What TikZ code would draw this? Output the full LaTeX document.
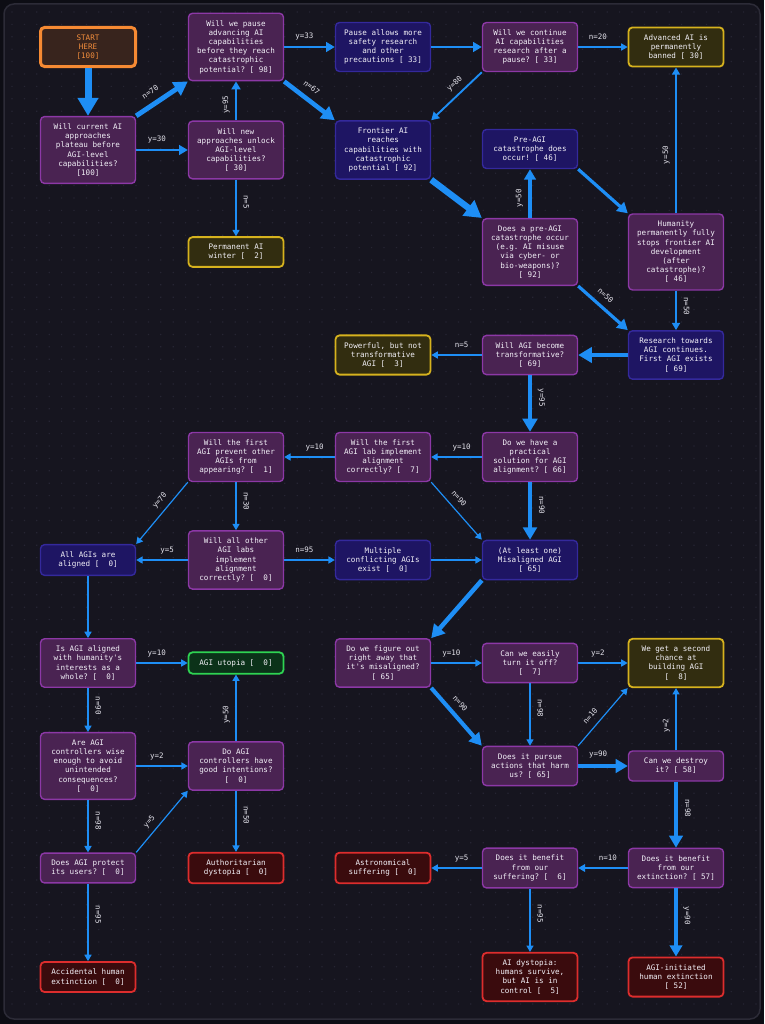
\documentclass[tikz,border=0pt]{standalone}
\usepackage{fontspec}
\setmonofont{DejaVu Sans Mono}
\usetikzlibrary{arrows.meta}
\definecolor{bgout}{HTML}{0D0D14}
\definecolor{panel}{HTML}{16151F}
\definecolor{panelline}{HTML}{2C2B37}
\definecolor{dotc}{HTML}{262533}
\definecolor{qfill}{HTML}{4A2352}
\definecolor{qline}{HTML}{8C38A6}
\definecolor{sfill}{HTML}{1E1563}
\definecolor{sline}{HTML}{34299C}
\definecolor{yfill}{HTML}{322D10}
\definecolor{yline}{HTML}{D6B21E}
\definecolor{rfill}{HTML}{3A0B0D}
\definecolor{rline}{HTML}{DD2D2D}
\definecolor{gfill}{HTML}{0B3219}
\definecolor{gline}{HTML}{2ED352}
\definecolor{bfill}{HTML}{38241D}
\definecolor{bline}{HTML}{F68A33}
\definecolor{btxt}{HTML}{F08C3C}
\definecolor{nodetxt}{HTML}{F2F0F7}
\definecolor{lbltxt}{HTML}{E2E1EA}
\definecolor{arrc}{HTML}{1E8EF5}

\begin{document}
\begin{tikzpicture}[x=1pt, y=-1pt,
  box/.style = {draw, rounded corners=4pt, line width=1.4pt, minimum width=95pt, inner xsep=3pt, inner ysep=7pt, align=center, text=nodetxt, font=\ttfamily\fontsize{7.6}{9.2}\selectfont},
  q/.style = {box, fill=qfill, draw=qline},
  st/.style = {box, fill=sfill, draw=sline},
  endy/.style = {box, fill=yfill, draw=yline, line width=1.8pt},
  endr/.style = {box, fill=rfill, draw=rline, line width=1.8pt},
  endg/.style = {box, fill=gfill, draw=gline, line width=1.8pt},
  begin/.style = {box, fill=bfill, draw=bline, line width=3pt, text=btxt},
  lbl/.style = {font=\ttfamily\fontsize{7.5}{8}\selectfont, text=lbltxt, inner sep=1pt, text height=5pt, text depth=1.5pt, sloped, above=4.5pt, pos=0.4},
  arr/.style = {draw=arrc, line width=#1pt, -{Triangle[length=4pt 2, width=4.5pt 2.2]}}]

  % Tausta
  \fill[bgout] (0,0) rectangle (764,1024);
  \filldraw[fill=panel, draw=panelline, line width=1.5pt, rounded corners=10pt] (4,4) rectangle (760,1019);
  \foreach \j in {0,...,80}
    \fill[dotc] \foreach \i in {0,...,60} {(11.4+12.4*\i, 11.4+12.4*\j) rectangle ++(1.2,1.2)};

  % Solmut
  \node[begin] (start) at (88,47) {START\\HERE\\{}[100]};
  \node[q] (plateau) at (88,150) {Will current AI\\approaches\\plateau before\\AGI-level\\capabilities?\\{}[100]};
  \node[q] (pause) at (236,47) {Will we pause\\advancing AI\\capabilities\\before they reach\\catastrophic\\potential? [~98]};
  \node[q] (newappr) at (236,150) {Will new\\approaches unlock\\AGI-level\\capabilities?\\{}[~30]};
  \node[endy] (winter) at (236,252) {Permanent AI\\winter [~~2]};
  \node[st] (safety) at (383,47) {Pause allows more\\safety research\\and other\\precautions [~33]};
  \node[q] (cont) at (530,47) {Will we continue\\AI capabilities\\research after a\\pause? [~33]};
  \node[endy] (banned) at (676,47) {Advanced AI is\\permanently\\banned [~30]};
  \node[st] (frontier) at (383,150) {Frontier AI\\reaches\\capabilities with\\catastrophic\\potential [~92]};
  \node[st] (catyes) at (530,149) {Pre-AGI\\catastrophe does\\occur! [~46]};
  \node[q] (catq) at (530,252) {Does a pre-AGI\\catastrophe occur\\(e.g. AI misuse\\via cyber- or\\bio-weapons)?\\{}[~92]};
  \node[q] (stops) at (676,252) {Humanity\\permanently fully\\stops frontier AI\\development\\(after\\catastrophe)?\\{}[~46]};
  \node[st] (research) at (676,355) {Research towards\\AGI continues.\\First AGI exists\\{}[~69]};
  \node[q] (transf) at (530,355) {Will AGI become\\transformative?\\{}[~69]};
  \node[endy] (powerful) at (383,355) {Powerful, but not\\transformative\\AGI [~~3]};
  \node[q] (solution) at (530,457) {Do we have a\\practical\\solution for AGI\\alignment? [~66]};
  \node[q] (firstlab) at (383,457) {Will the first\\AGI lab implement\\alignment\\correctly? [~~7]};
  \node[q] (prevent) at (236,457) {Will the first\\AGI prevent other\\AGIs from\\appearing? [~~1]};
  \node[q] (others) at (236,560) {Will all other\\AGI labs\\implement\\alignment\\correctly? [~~0]};
  \node[st] (allgood) at (88,560) {All AGIs are\\aligned [~~0]};
  \node[st] (multi) at (383,560) {Multiple\\conflicting AGIs\\exist [~~0]};
  \node[st] (misal) at (530,560) {(At least one)\\Misaligned AGI\\{}[~65]};
  \node[q] (humans) at (88,663) {Is AGI aligned\\with humanity's\\interests as a\\whole? [~~0]};
  \node[endg] (utopia) at (236,663) {AGI utopia [~~0]};
  \node[q] (wise) at (88,766) {Are AGI\\controllers wise\\enough to avoid\\unintended\\consequences?\\{}[~~0]};
  \node[q] (intent) at (236,766) {Do AGI\\controllers have\\good intentions?\\{}[~~0]};
  \node[q] (protect) at (88,868) {Does AGI protect\\its users? [~~0]};
  \node[endr] (author) at (236,868) {Authoritarian\\dystopia [~~0]};
  \node[endr] (accident) at (88,977) {Accidental human\\extinction [~~0]};
  \node[q] (noticed) at (383,663) {Do we figure out\\right away that\\it's misaligned?\\{}[~65]};
  \node[q] (turnoff) at (530,663) {Can we easily\\turn it off?\\{}[~~7]};
  \node[endy] (second) at (676,663) {We get a second\\chance at\\building AGI\\{}[~~8]};
  \node[q] (harm) at (530,766) {Does it pursue\\actions that harm\\us? [~65]};
  \node[q] (destroy) at (676,766) {Can we destroy\\it? [~58]};
  \node[q] (benext) at (676,868) {Does it benefit\\from our\\extinction? [~57]};
  \node[q] (bensuf) at (530,868) {Does it benefit\\from our\\suffering? [~~6]};
  \node[endr] (astro) at (383,868) {Astronomical\\suffering [~~0]};
  \node[endr] (aidyst) at (530,977) {AI dystopia:\\humans survive,\\but AI is in\\control [~~5]};
  \node[endr] (agiext) at (676,977) {AGI-initiated\\human extinction\\{}[~52]};

  % Nuolet
  \draw[arr=7] (start) -- (plateau);
  \draw[arr=4.9] (plateau.north east) -- node[lbl]{n=70} (pause.south west);
  \draw[arr=2.3] (plateau) -- node[lbl]{y=30} (newappr);
  \draw[arr=2] (newappr) -- node[lbl]{y=95} (pause);
  \draw[arr=1.2] (newappr) -- node[lbl]{n=5} (winter);
  \draw[arr=2.3] (pause) -- node[lbl]{y=33} (safety);
  \draw[arr=4.6] (pause.south east) -- node[lbl]{n=67} (frontier.north west);
  \draw[arr=2.3] (safety) -- (cont);
  \draw[arr=1.2] (cont) -- node[lbl]{n=20} (banned);
  \draw[arr=1.9] (cont.south west) -- node[lbl]{y=80} (frontier.north east);
  \draw[arr=6.4] (frontier.south east) -- (catq.north west);
  \draw[arr=3.2] (catq) -- node[lbl]{y=50} (catyes);
  \draw[arr=3.2] (catq.south east) -- node[lbl]{n=50} (research.north west);
  \draw[arr=3.2] (catyes.south east) -- (stops.north west);
  \draw[arr=1.6] (stops) -- node[lbl]{y=50} (banned);
  \draw[arr=1.6] (stops) -- node[lbl]{n=50} (research);
  \draw[arr=4.8] (research) -- (transf);
  \draw[arr=1.2] (transf) -- node[lbl]{n=5} (powerful);
  \draw[arr=4.6] (transf) -- node[lbl]{y=95} (solution);
  \draw[arr=1.2] (solution) -- node[lbl]{y=10} (firstlab);
  \draw[arr=4.2] (solution) -- node[lbl]{n=90} (misal);
  \draw[arr=1.2] (firstlab) -- node[lbl]{y=10} (prevent);
  \draw[arr=1.2] (firstlab.south east) -- node[lbl]{n=90} (misal.north west);
  \draw[arr=1.2] (prevent.south west) -- node[lbl]{y=70} (allgood.north east);
  \draw[arr=1.2] (prevent) -- node[lbl]{n=30} (others);
  \draw[arr=1.2] (others) -- node[lbl]{y=5} (allgood);
  \draw[arr=1.2] (others) -- node[lbl]{n=95} (multi);
  \draw[arr=1.2] (multi) -- (misal);
  \draw[arr=4.5] (misal.south west) -- (noticed.north east);
  \draw[arr=1.2] (allgood) -- (humans);
  \draw[arr=1.2] (humans) -- node[lbl]{y=10} (utopia);
  \draw[arr=1.2] (humans) -- node[lbl]{n=90} (wise);
  \draw[arr=1.2] (wise) -- node[lbl]{y=2} (intent);
  \draw[arr=1.2] (wise) -- node[lbl]{n=98} (protect);
  \draw[arr=1.2] (protect.north east) -- node[lbl]{y=5} (intent.south west);
  \draw[arr=1.2] (protect) -- node[lbl]{n=95} (accident);
  \draw[arr=1.2] (intent) -- node[lbl]{y=50} (utopia);
  \draw[arr=1.2] (intent) -- node[lbl]{n=50} (author);
  \draw[arr=1.2] (noticed) -- node[lbl]{y=10} (turnoff);
  \draw[arr=4.1] (noticed.south east) -- node[lbl]{n=90} (harm.north west);
  \draw[arr=1.2] (turnoff) -- node[lbl]{y=2} (second);
  \draw[arr=1.2] (turnoff) -- node[lbl]{n=98} (harm);
  \draw[arr=1.2] (harm.north east) -- node[lbl]{n=10} (second.south west);
  \draw[arr=4.1] (harm) -- node[lbl]{y=90} (destroy);
  \draw[arr=1.2] (destroy) -- node[lbl]{y=2} (second);
  \draw[arr=4] (destroy) -- node[lbl]{n=98} (benext);
  \draw[arr=1.4] (benext) -- node[lbl]{n=10} (bensuf);
  \draw[arr=3.6] (benext) -- node[lbl]{y=90} (agiext);
  \draw[arr=1.2] (bensuf) -- node[lbl]{y=5} (astro);
  \draw[arr=1.2] (bensuf) -- node[lbl]{n=95} (aidyst);
\end{tikzpicture}
\end{document}
